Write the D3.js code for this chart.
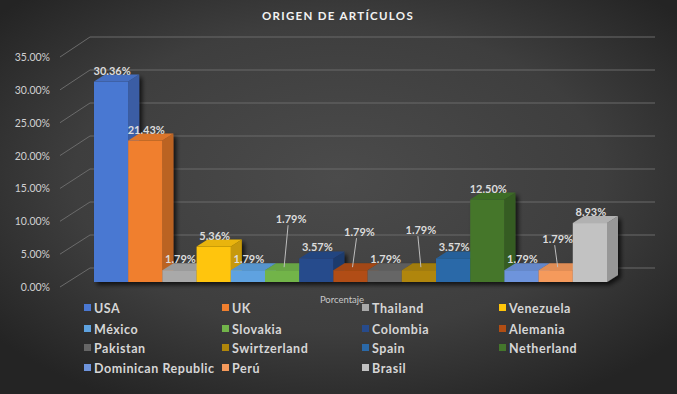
<!DOCTYPE html>
<html>
<head>
<meta charset="utf-8">
<script src="https://cdn.jsdelivr.net/npm/d3@7"></script>
<style>
  html, body { margin: 0; padding: 0; background: #333; }
  svg { display: block; }
</style>
</head>
<body>
<div id="chart"></div>
<script>
// ---- data ----
const countries = ["USA", "UK", "Thailand", "Venezuela", "México", "Slovakia", "Colombia", "Alemania",
  "Pakistan", "Swirtzerland", "Spain", "Netherland", "Dominican Republic", "Perú", "Brasil"];
const percentages = [30.36, 21.43, 1.79, 5.36, 1.79, 1.79, 3.57, 1.79, 1.79, 1.79, 3.57, 12.50, 1.79, 1.79, 8.93];
const colors = ["#4a78d2", "#f07f2e", "#a9a9a9", "#ffc50a", "#5ea2e0", "#72b44a", "#274b8c", "#b14e14",
  "#666666", "#b0860a", "#2b69a8", "#44762c", "#6e94dc", "#f59a5c", "#c2c2c2"];
const yTicks = [0, 5, 10, 15, 20, 25, 30, 35];
const seriesName = "Porcentaje";
const chartTitle = "ORIGEN DE ARTÍCULOS";

// label placement tweaks (labels moved above with leader lines)
const labelLift = { "Slovakia": [9, 40], "Alemania": [9, 27], "Swirtzerland": [2, 29], "Perú": [2, 20] };

const W = 677, H = 394;
const svg = d3.select("#chart").append("svg").attr("width", W).attr("height", H);
const defs = svg.append("defs");

const bg = defs.append("radialGradient").attr("id", "bg").attr("cx", "50%").attr("cy", "45%").attr("r", "65%");
bg.append("stop").attr("offset", "0%").attr("stop-color", "#4b4b4b");
bg.append("stop").attr("offset", "60%").attr("stop-color", "#3e3e3e");
bg.append("stop").attr("offset", "100%").attr("stop-color", "#242424");
svg.append("rect").attr("width", W).attr("height", H).attr("fill", "url(#bg)");

const sh = defs.append("filter").attr("id", "shadow").attr("x", "-10%").attr("y", "-10%").attr("width", "130%").attr("height", "130%");
sh.append("feDropShadow").attr("dx", 3).attr("dy", 3).attr("stdDeviation", 2)
  .attr("flood-color", "#000").attr("flood-opacity", 0.7);

const fmt = v => v.toFixed(2) + "%";

// scales
const yMax = 35;
const yBack = d3.scaleLinear().domain([0, yMax]).range([268, 37]);   // back wall
const yFront = d3.scaleLinear().domain([0, yMax]).range([287, 57]);  // front axis
const yBar = d3.scaleLinear().domain([0, yMax]).range([282, 282 - 35 * 6.6]); // bar front plane
const x = d3.scaleBand().domain(countries).range([94, 607]).padding(0);
const wallLeft = 90, wallRight = 655, axisX = 60;
const bdx = 11, bdy = -7; // bar depth

// title
svg.append("text").attr("x", 338).attr("y", 20).attr("text-anchor", "middle")
  .attr("font-family", "Lato, 'Open Sans', sans-serif").attr("font-weight", 700)
  .attr("font-size", 11.5).attr("letter-spacing", 1.3).attr("fill", "#f2f2f2").text(chartTitle);

// gridlines
const grid = svg.append("g").attr("stroke", "#6b6b6b").attr("stroke-width", 1).attr("fill", "none");
grid.selectAll("path").data(yTicks).join("path")
  .attr("d", t => `M${axisX},${yFront(t)}L${wallLeft},${yBack(t)}L${wallRight},${yBack(t)}`);

// y labels
svg.append("g").selectAll("text").data(yTicks).join("text")
  .attr("x", 50).attr("y", t => yFront(t) + 4).attr("text-anchor", "end")
  .attr("font-family", "Lato, sans-serif").attr("font-size", 10.5).attr("fill", "#d0d0d0")
  .text(t => t.toFixed(2) + "%");

// bars
const bars = svg.append("g").attr("filter", "url(#shadow)");
countries.forEach((c, i) => {
  const v = percentages[i];
  const col = d3.color(colors[i]);
  const x0 = x(c), x1 = x0 + x.bandwidth();
  const yb = yBar(0), yt = yBar(v);
  const g = bars.append("g");
  g.append("path").attr("d", `M${x1},${yb}L${x1 + bdx},${yb + bdy}L${x1 + bdx},${yt + bdy}L${x1},${yt}Z`)
    .attr("fill", col.darker(0.7));
  g.append("path").attr("d", `M${x0},${yt}L${x0 + bdx},${yt + bdy}L${x1 + bdx},${yt + bdy}L${x1},${yt}Z`)
    .attr("fill", col.darker(0.25));
  g.append("rect").attr("x", x0).attr("y", yt).attr("width", x.bandwidth()).attr("height", yb - yt)
    .attr("fill", col.formatHex());
});

// labels
const lab = svg.append("g").attr("font-family", "Lato, sans-serif").attr("font-weight", 700)
  .attr("font-size", 11).attr("fill", "#dcdcdc").attr("text-anchor", "middle");
countries.forEach((c, i) => {
  const v = percentages[i];
  const cx = x(c) + x.bandwidth() / 2;
  const yt = yBar(v);
  const lift = labelLift[c];
  let lx = cx + 1, ly = yt - 11;
  if (lift) {
    lx = cx + lift[0]; ly = yt - 11 - lift[1];
    svg.append("line").attr("x1", lx - 3).attr("y1", ly + 6).attr("x2", cx + 2).attr("y2", yt - 3)
      .attr("stroke", "#bdbdbd").attr("stroke-width", 1);
  }
  lab.append("text").attr("x", lx).attr("y", ly + 4).text(fmt(v));
});

// series name
svg.append("text").attr("x", 342).attr("y", 303).attr("text-anchor", "middle")
  .attr("font-family", "Lato, sans-serif").attr("font-size", 9.5).attr("fill", "#c8c8c8").text(seriesName);

// legend
const colX = [85, 223, 363, 500];
const rowY = [308, 329, 348, 368];
const leg = svg.append("g");
countries.forEach((c, i) => {
  const cxp = colX[i % 4], cyp = rowY[Math.floor(i / 4)];
  leg.append("rect").attr("x", cxp - 1).attr("y", cyp - 4).attr("width", 7).attr("height", 7).attr("fill", colors[i]);
  leg.append("text").attr("x", cxp + 9).attr("y", cyp + 4.5)
    .attr("font-family", "Lato, sans-serif").attr("font-weight", 700).attr("font-size", 12.5)
    .attr("letter-spacing", 0.55).attr("fill", "#d6d6d6").text(c);
});
</script>
</body>
</html>
